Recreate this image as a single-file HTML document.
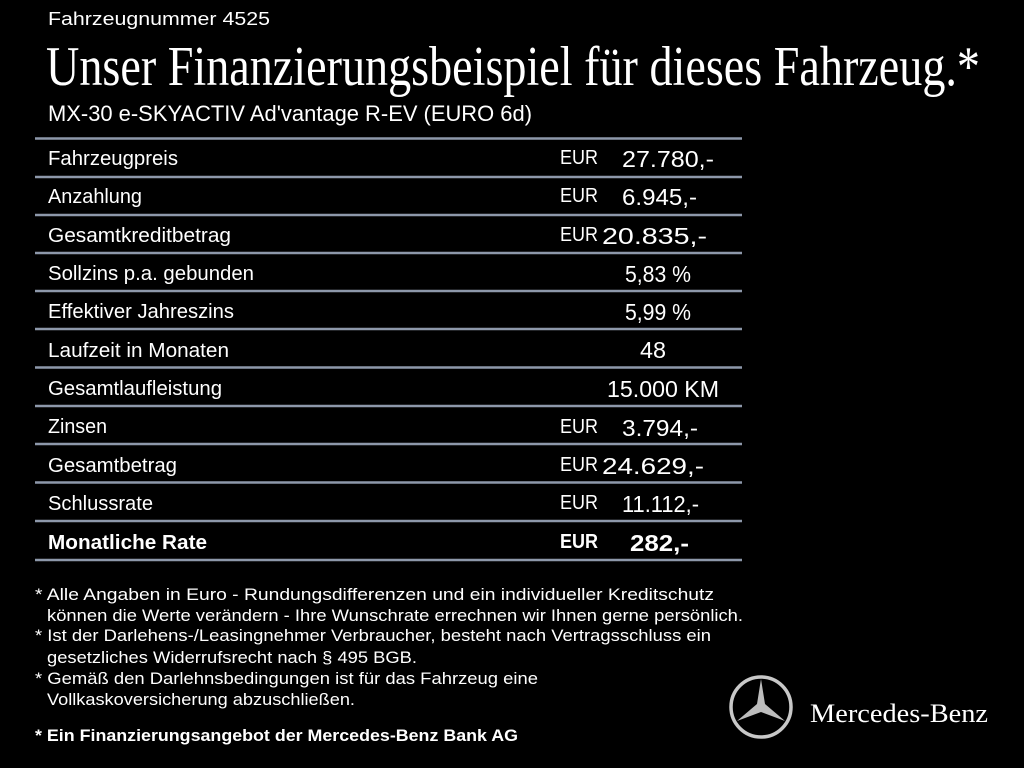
<!DOCTYPE html>
<html><head><meta charset="utf-8"><style>
html,body{margin:0;padding:0;background:#000;}
svg{display:block}
text{fill:#fff;font-family:"Liberation Sans",sans-serif;}
.s{font-family:"Liberation Serif",serif;}
</style></head><body>
<svg width="1024" height="768" viewBox="0 0 1024 768">
<rect width="1024" height="768" fill="#000"/>
<text x="48" y="25" font-size="18" textLength="222" lengthAdjust="spacingAndGlyphs">Fahrzeugnummer 4525</text>
<text class="s" x="46" y="85" font-size="56" textLength="934" lengthAdjust="spacingAndGlyphs">Unser Finanzierungsbeispiel für dieses Fahrzeug.*</text>
<text x="48" y="121" font-size="22" textLength="484" lengthAdjust="spacingAndGlyphs">MX-30 e-SKYACTIV Ad'vantage R-EV (EURO 6d)</text>
<g stroke="#8d98aa" stroke-width="2.5">
<line x1="35" x2="742" y1="138.5" y2="138.5"/>
<line x1="35" x2="742" y1="177" y2="177"/>
<line x1="35" x2="742" y1="215" y2="215"/>
<line x1="35" x2="742" y1="253" y2="253"/>
<line x1="35" x2="742" y1="291" y2="291"/>
<line x1="35" x2="742" y1="329" y2="329"/>
<line x1="35" x2="742" y1="367.5" y2="367.5"/>
<line x1="35" x2="742" y1="406" y2="406"/>
<line x1="35" x2="742" y1="444" y2="444"/>
<line x1="35" x2="742" y1="482.5" y2="482.5"/>
<line x1="35" x2="742" y1="521" y2="521"/>
<line x1="35" x2="742" y1="560" y2="560"/>
</g>
<g font-size="20">
<text x="48" y="165" textLength="130" lengthAdjust="spacingAndGlyphs">Fahrzeugpreis</text>
<text x="48" y="203" textLength="94" lengthAdjust="spacingAndGlyphs">Anzahlung</text>
<text x="48" y="242" textLength="183" lengthAdjust="spacingAndGlyphs">Gesamtkreditbetrag</text>
<text x="48" y="280" textLength="206" lengthAdjust="spacingAndGlyphs">Sollzins p.a. gebunden</text>
<text x="48" y="318" textLength="186" lengthAdjust="spacingAndGlyphs">Effektiver Jahreszins</text>
<text x="48" y="357" textLength="181" lengthAdjust="spacingAndGlyphs">Laufzeit in Monaten</text>
<text x="48" y="395" textLength="174" lengthAdjust="spacingAndGlyphs">Gesamtlaufleistung</text>
<text x="48" y="433" textLength="59" lengthAdjust="spacingAndGlyphs">Zinsen</text>
<text x="48" y="472" textLength="129" lengthAdjust="spacingAndGlyphs">Gesamtbetrag</text>
<text x="48" y="510" textLength="105" lengthAdjust="spacingAndGlyphs">Schlussrate</text>
<text x="48" y="549" textLength="159" lengthAdjust="spacingAndGlyphs" font-weight="bold">Monatliche Rate</text>
<text x="560" y="164" textLength="38" lengthAdjust="spacingAndGlyphs">EUR</text>
<text x="560" y="202" textLength="38" lengthAdjust="spacingAndGlyphs">EUR</text>
<text x="560" y="241" textLength="38" lengthAdjust="spacingAndGlyphs">EUR</text>
<text x="560" y="433" textLength="38" lengthAdjust="spacingAndGlyphs">EUR</text>
<text x="560" y="471" textLength="38" lengthAdjust="spacingAndGlyphs">EUR</text>
<text x="560" y="509" textLength="38" lengthAdjust="spacingAndGlyphs">EUR</text>
<text x="560" y="548" textLength="38" lengthAdjust="spacingAndGlyphs" font-weight="bold">EUR</text>
</g>
<g font-size="23">
<text x="622" y="167" textLength="92" lengthAdjust="spacingAndGlyphs">27.780,-</text>
<text x="622" y="205" textLength="75" lengthAdjust="spacingAndGlyphs">6.945,-</text>
<text x="602" y="244" textLength="105" lengthAdjust="spacingAndGlyphs">20.835,-</text>
<text x="625" y="282" textLength="66" lengthAdjust="spacingAndGlyphs">5,83 %</text>
<text x="625" y="320" textLength="66" lengthAdjust="spacingAndGlyphs">5,99 %</text>
<text x="640" y="358" textLength="26" lengthAdjust="spacingAndGlyphs">48</text>
<text x="607" y="397" textLength="112" lengthAdjust="spacingAndGlyphs">15.000 KM</text>
<text x="622" y="436" textLength="76" lengthAdjust="spacingAndGlyphs">3.794,-</text>
<text x="602" y="474" textLength="102" lengthAdjust="spacingAndGlyphs">24.629,-</text>
<text x="622" y="512" textLength="77" lengthAdjust="spacingAndGlyphs">11.112,-</text>
<text x="630" y="551" textLength="59" lengthAdjust="spacingAndGlyphs" font-weight="bold">282,-</text>
</g>
<g font-size="16.5">
<text x="35" y="600" textLength="679" lengthAdjust="spacingAndGlyphs">* Alle Angaben in Euro - Rundungsdifferenzen und ein individueller Kreditschutz</text>
<text x="47" y="621" textLength="696" lengthAdjust="spacingAndGlyphs">können die Werte verändern - Ihre Wunschrate errechnen wir Ihnen gerne persönlich.</text>
<text x="35" y="641" textLength="676" lengthAdjust="spacingAndGlyphs">* Ist der Darlehens-/Leasingnehmer Verbraucher, besteht nach Vertragsschluss ein</text>
<text x="47" y="663" textLength="370" lengthAdjust="spacingAndGlyphs">gesetzliches Widerrufsrecht nach § 495 BGB.</text>
<text x="35" y="684" textLength="503" lengthAdjust="spacingAndGlyphs">* Gemäß den Darlehnsbedingungen ist für das Fahrzeug eine</text>
<text x="47" y="705" textLength="308" lengthAdjust="spacingAndGlyphs">Vollkaskoversicherung abzuschließen.</text>
<text x="35" y="741" textLength="483" lengthAdjust="spacingAndGlyphs" font-weight="bold">* Ein Finanzierungsangebot der Mercedes-Benz Bank AG</text>
</g>
<g transform="translate(761,707)" fill="none" stroke="#c8c8c8">
<circle r="30" stroke-width="3.5"/>
<path d="M0,-28 L4,-3 L24,14 L0,5 L-24,14 L-4,-3 Z" fill="#bdbdbd" stroke="none"/>
</g>
<text class="s" x="810" y="722" font-size="26" textLength="178" lengthAdjust="spacingAndGlyphs">Mercedes-Benz</text>
</svg>
</body></html>
